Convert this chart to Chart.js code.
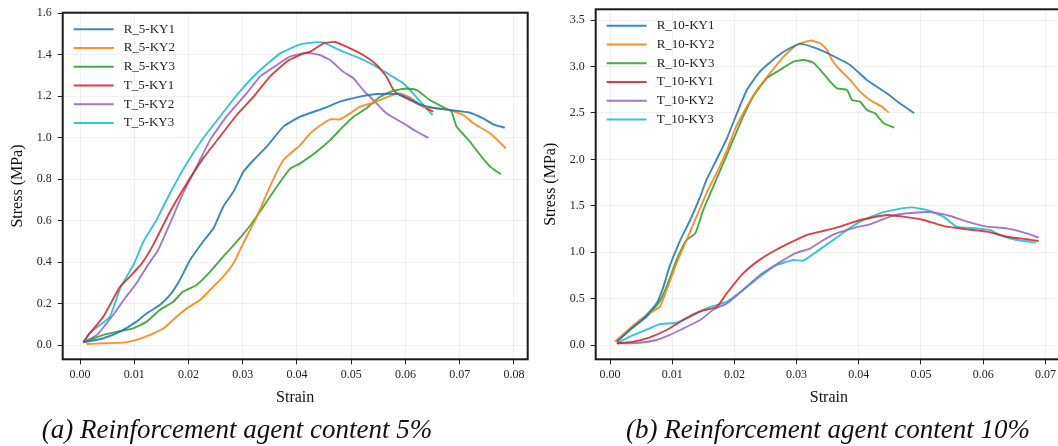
<!DOCTYPE html>
<html>
<head>
<meta charset="utf-8">
<script src="https://cdn.jsdelivr.net/npm/chart.js@4/dist/chart.umd.min.js"></script>
<style>
  html, body { margin: 0; padding: 0; background: #fff; }
  #wrap { position: relative; width: 1058px; height: 446px; overflow: hidden; }
  canvas { position: absolute; top: 0; }
  #chartA { left: 0; }
  #chartB { left: 530px; }
  .caption {
    position: absolute; top: 414px; white-space: nowrap;
    font: italic 27px "Liberation Serif", "Times New Roman", serif; color: #111;
    transform: translateX(-50%);
  }
</style>
</head>
<body>
<div id="wrap">
  <canvas id="chartA" width="532" height="446"></canvas>
  <canvas id="chartB" width="535" height="446"></canvas>
  <div class="caption" style="left:237px">(a) Reinforcement agent content 5%</div>
  <div class="caption" style="left:828px">(b) Reinforcement agent content 10%</div>
</div>
<script>
// 刻度
const xTicksA = [0, 0.01, 0.02, 0.03, 0.04, 0.05, 0.06, 0.07, 0.08];
const yTicksA = [0, 0.2, 0.4, 0.6, 0.8, 1.0, 1.2, 1.4, 1.6];
const xTicksB = [0, 0.01, 0.02, 0.03, 0.04, 0.05, 0.06, 0.07];
const yTicksB = [0, 0.5, 1.0, 1.5, 2.0, 2.5, 3.0, 3.5];

// (a) 5% 数据 [strain, stress]
const R_5_KY1 = [[0.0006,0.014],[0.0043,0.034],[0.0074,0.066],[0.0104,0.114],[0.0123,0.154],[0.0147,0.194],[0.0166,0.243],[0.0184,0.315],[0.0203,0.411],[0.0227,0.500],[0.0246,0.564],[0.0264,0.668],[0.0283,0.741],[0.0301,0.835],[0.0320,0.893],[0.0344,0.957],[0.0375,1.054],[0.0406,1.102],[0.0449,1.142],[0.0479,1.174],[0.0510,1.195],[0.0547,1.211],[0.0584,1.211],[0.0602,1.195],[0.0627,1.161],[0.0651,1.145],[0.0682,1.134],[0.0719,1.121],[0.0743,1.094],[0.0762,1.065],[0.0783,1.049]];
const R_5_KY2 = [[0.0012,0.006],[0.0043,0.010],[0.0080,0.013],[0.0104,0.026],[0.0129,0.050],[0.0154,0.082],[0.0178,0.138],[0.0197,0.178],[0.0221,0.218],[0.0246,0.283],[0.0264,0.331],[0.0283,0.395],[0.0301,0.492],[0.0326,0.620],[0.0350,0.765],[0.0375,0.893],[0.0406,0.965],[0.0424,1.020],[0.0442,1.058],[0.0461,1.089],[0.0479,1.089],[0.0498,1.118],[0.0516,1.150],[0.0541,1.169],[0.0571,1.201],[0.0590,1.214],[0.0608,1.195],[0.0633,1.150],[0.0657,1.142],[0.0682,1.134],[0.0707,1.110],[0.0725,1.070],[0.0756,1.022],[0.0785,0.949]];
const R_5_KY3 = [[0.0006,0.014],[0.0043,0.050],[0.0074,0.069],[0.0098,0.082],[0.0123,0.114],[0.0147,0.170],[0.0172,0.210],[0.0190,0.259],[0.0215,0.291],[0.0240,0.355],[0.0264,0.427],[0.0289,0.500],[0.0313,0.575],[0.0338,0.668],[0.0363,0.765],[0.0387,0.850],[0.0406,0.877],[0.0436,0.933],[0.0461,0.989],[0.0485,1.054],[0.0504,1.102],[0.0528,1.142],[0.0553,1.198],[0.0578,1.227],[0.0602,1.238],[0.0621,1.230],[0.0645,1.182],[0.0670,1.147],[0.0685,1.126],[0.0694,1.054],[0.0719,0.981],[0.0740,0.909],[0.0756,0.861],[0.0776,0.824]];
const T_5_KY1 = [[0.0006,0.014],[0.0018,0.058],[0.0043,0.138],[0.0074,0.283],[0.0092,0.331],[0.0114,0.395],[0.0135,0.484],[0.0166,0.644],[0.0197,0.781],[0.0227,0.901],[0.0258,1.006],[0.0289,1.110],[0.0320,1.198],[0.0350,1.295],[0.0381,1.367],[0.0406,1.400],[0.0424,1.415],[0.0449,1.455],[0.0470,1.462],[0.0498,1.431],[0.0522,1.399],[0.0547,1.351],[0.0565,1.294],[0.0578,1.230],[0.0590,1.206],[0.0621,1.166],[0.0651,1.126]];
const T_5_KY2 = [[0.0006,0.014],[0.0031,0.050],[0.0061,0.146],[0.0083,0.227],[0.0104,0.299],[0.0123,0.379],[0.0144,0.459],[0.0166,0.588],[0.0190,0.733],[0.0215,0.861],[0.0240,0.990],[0.0270,1.102],[0.0307,1.214],[0.0332,1.295],[0.0363,1.351],[0.0387,1.391],[0.0418,1.410],[0.0442,1.399],[0.0461,1.375],[0.0485,1.319],[0.0504,1.287],[0.0522,1.230],[0.0541,1.182],[0.0565,1.118],[0.0596,1.070],[0.0621,1.029],[0.0642,1.000]];
const T_5_KY3 = [[0.0006,0.014],[0.0018,0.059],[0.0055,0.138],[0.0074,0.275],[0.0100,0.395],[0.0117,0.500],[0.0141,0.604],[0.0166,0.733],[0.0197,0.877],[0.0227,0.998],[0.0258,1.102],[0.0289,1.206],[0.0326,1.311],[0.0369,1.407],[0.0406,1.450],[0.0433,1.460],[0.0448,1.460],[0.0485,1.415],[0.0516,1.383],[0.0541,1.351],[0.0571,1.303],[0.0596,1.263],[0.0614,1.214],[0.0633,1.158],[0.0650,1.110]];

// (b) 10% 数据 [strain, stress]
const R_10_KY1 = [[0.0011,0.036],[0.0032,0.162],[0.0054,0.287],[0.0075,0.449],[0.0086,0.629],[0.0096,0.850],[0.0113,1.131],[0.0129,1.347],[0.0145,1.598],[0.0155,1.778],[0.0171,1.993],[0.0188,2.227],[0.0204,2.496],[0.0220,2.748],[0.0241,2.945],[0.0268,3.107],[0.0289,3.197],[0.0306,3.245],[0.0332,3.197],[0.0354,3.130],[0.0386,3.017],[0.0413,2.856],[0.0445,2.712],[0.0466,2.604],[0.0489,2.496]];
const R_10_KY2 = [[0.0008,0.036],[0.0038,0.216],[0.0059,0.323],[0.0080,0.413],[0.0091,0.593],[0.0107,0.880],[0.0123,1.131],[0.0139,1.383],[0.0155,1.634],[0.0171,1.850],[0.0188,2.101],[0.0204,2.371],[0.0220,2.568],[0.0236,2.748],[0.0257,2.927],[0.0279,3.107],[0.0300,3.233],[0.0322,3.280],[0.0338,3.251],[0.0349,3.179],[0.0357,3.071],[0.0370,2.963],[0.0386,2.856],[0.0402,2.730],[0.0418,2.640],[0.0437,2.568],[0.0448,2.504]];
const R_10_KY3 = [[0.0011,0.036],[0.0038,0.198],[0.0059,0.305],[0.0078,0.449],[0.0091,0.629],[0.0107,0.916],[0.0123,1.131],[0.0137,1.203],[0.0150,1.455],[0.0166,1.706],[0.0182,1.958],[0.0198,2.209],[0.0214,2.460],[0.0230,2.676],[0.0252,2.874],[0.0273,2.963],[0.0295,3.053],[0.0311,3.071],[0.0327,3.042],[0.0343,2.927],[0.0354,2.838],[0.0365,2.766],[0.0381,2.748],[0.0389,2.640],[0.0402,2.622],[0.0413,2.532],[0.0426,2.496],[0.0440,2.389],[0.0457,2.342]];
const T_10_KY1 = [[0.0011,0.018],[0.0038,0.036],[0.0064,0.083],[0.0091,0.162],[0.0118,0.269],[0.0145,0.360],[0.0172,0.413],[0.0188,0.560],[0.0214,0.772],[0.0241,0.920],[0.0263,1.010],[0.0289,1.100],[0.0316,1.185],[0.0338,1.221],[0.0370,1.275],[0.0402,1.347],[0.0445,1.401],[0.0472,1.383],[0.0504,1.347],[0.0541,1.275],[0.0574,1.246],[0.0606,1.221],[0.0638,1.167],[0.0670,1.139],[0.0689,1.121]];
const T_10_KY2 = [[0.0011,0.018],[0.0048,0.025],[0.0075,0.054],[0.0096,0.108],[0.0118,0.180],[0.0145,0.269],[0.0166,0.380],[0.0188,0.449],[0.0214,0.593],[0.0241,0.754],[0.0268,0.870],[0.0295,0.980],[0.0322,1.042],[0.0338,1.110],[0.0359,1.190],[0.0391,1.260],[0.0418,1.300],[0.0450,1.383],[0.0477,1.419],[0.0515,1.432],[0.0547,1.390],[0.0574,1.329],[0.0606,1.275],[0.0638,1.257],[0.0670,1.203],[0.0689,1.157]];
const T_10_KY3 = [[0.0011,0.018],[0.0038,0.108],[0.0064,0.180],[0.0080,0.225],[0.0107,0.240],[0.0134,0.330],[0.0161,0.410],[0.0188,0.467],[0.0214,0.593],[0.0241,0.736],[0.0268,0.862],[0.0295,0.916],[0.0311,0.909],[0.0332,1.006],[0.0359,1.131],[0.0381,1.239],[0.0402,1.329],[0.0434,1.419],[0.0461,1.462],[0.0485,1.483],[0.0509,1.455],[0.0536,1.383],[0.0557,1.275],[0.0590,1.257],[0.0611,1.239],[0.0627,1.185],[0.0654,1.131],[0.0685,1.103]];

const seriesA = [['R_5-KY1', R_5_KY1], ['R_5-KY2', R_5_KY2], ['R_5-KY3', R_5_KY3], ['T_5-KY1', T_5_KY1], ['T_5-KY2', T_5_KY2], ['T_5-KY3', T_5_KY3]];
const seriesB = [['R_10-KY1', R_10_KY1], ['R_10-KY2', R_10_KY2], ['R_10-KY3', R_10_KY3], ['T_10-KY1', T_10_KY1], ['T_10-KY2', T_10_KY2], ['T_10-KY3', T_10_KY3]];

const COLORS = ['rgba(31,119,180,0.88)', 'rgba(255,127,14,0.88)', 'rgba(44,160,44,0.88)', 'rgba(214,39,40,0.88)', 'rgba(148,103,189,0.88)', 'rgba(23,190,207,0.88)'];
const SERIF = '"Liberation Serif", "Times New Roman", serif';

// 外框
const framePlugin = {
  id: 'frame',
  afterDraw(chart) {
    const { ctx, chartArea: a } = chart;
    ctx.save();
    ctx.strokeStyle = '#1a1a1a';
    ctx.lineWidth = 2;
    ctx.strokeRect(a.left, a.top, a.right - a.left, a.bottom - a.top);
    ctx.restore();
  }
};

// 图例（线段 + 文字，左上角）
const lineLegend = {
  id: 'lineLegend',
  afterDatasetsDraw(chart, args, opts) {
    const { ctx, chartArea: a } = chart;
    ctx.save();
    ctx.font = '13px ' + SERIF;
    ctx.textBaseline = 'middle';
    chart.data.datasets.forEach((ds, i) => {
      const x = a.left + opts.left;
      const y = a.top + opts.top + i * opts.rowGap;
      ctx.strokeStyle = ds.borderColor;
      ctx.lineWidth = 2;
      ctx.beginPath();
      ctx.moveTo(x, y);
      ctx.lineTo(x + 40, y);
      ctx.stroke();
      ctx.fillStyle = '#222';
      ctx.fillText(ds.label, x + 50, y);
    });
    ctx.restore();
  }
};

const makeChart = (id, series, xTicks, yTicks, range, axisBox, titleGap) => {
  const canvas = document.getElementById(id);
  return new Chart(canvas.getContext('2d'), {
    type: 'line',
    data: {
      datasets: series.map(([label, pts], i) => ({
        label,
        data: pts.map(([x, y]) => ({ x, y })),
        borderColor: COLORS[i],
        borderWidth: 1.9,
        pointRadius: 0,
        tension: 0.15,
        fill: false
      }))
    },
    options: {
      responsive: false,
      animation: false,
      layout: { padding: axisBox.padding },
      plugins: {
        legend: { display: false },
        tooltip: { enabled: false },
        lineLegend: { left: 11, top: 16.5, rowGap: 18.75 }
      },
      scales: {
        x: {
          type: 'linear',
          min: range.xMin, max: range.xMax,
          afterBuildTicks: (s) => { s.ticks = xTicks.map(v => ({ value: v })); },
          afterFit: (s) => { s.height = axisBox.xHeight; s.paddingLeft = 0; s.paddingRight = 0; },
          ticks: { callback: (v) => v.toFixed(2), font: { family: SERIF, size: 12 }, color: '#222', padding: 3, maxRotation: 0 },
          grid: { color: 'rgba(0,0,0,0.06)', tickColor: '#222', tickLength: 5, tickWidth: 1 },
          border: { display: false },
          title: { display: true, text: 'Strain', font: { family: SERIF, size: 16 }, color: '#111', padding: { top: 0, bottom: 39 } }
        },
        y: {
          type: 'linear',
          min: range.yMin, max: range.yMax,
          afterBuildTicks: (s) => { s.ticks = yTicks.map(v => ({ value: v })); },
          afterFit: (s) => { s.width = axisBox.yWidth; s.paddingTop = 0; s.paddingBottom = 0; },
          ticks: { callback: (v) => v.toFixed(1), font: { family: SERIF, size: 12 }, color: '#222', padding: 6 },
          grid: { color: 'rgba(0,0,0,0.06)', tickColor: '#222', tickLength: 5, tickWidth: 1 },
          border: { display: false },
          title: { display: true, text: 'Stress (MPa)', font: { family: SERIF, size: 16 }, color: '#111', padding: { top: titleGap, bottom: 0 } }
        }
      }
    },
    plugins: [framePlugin, lineLegend]
  });
};

makeChart('chartA', seriesA, xTicksA, yTicksA,
  { xMin: -0.00319, xMax: 0.08253, yMin: -0.0675, yMax: 1.603 },
  { padding: { left: 0, right: 4.3, top: 12.7, bottom: 0 }, xHeight: 86.7, yWidth: 62.7 }, 8.5);

makeChart('chartB', seriesB, xTicksB, yTicksB,
  { xMin: -0.0023, xMax: 0.07267, yMin: -0.154, yMax: 3.617 },
  { padding: { left: 0, right: 3, top: 9.3, bottom: 0 }, xHeight: 86.7, yWidth: 65.7 }, 11.5);
</script>
</body>
</html>
